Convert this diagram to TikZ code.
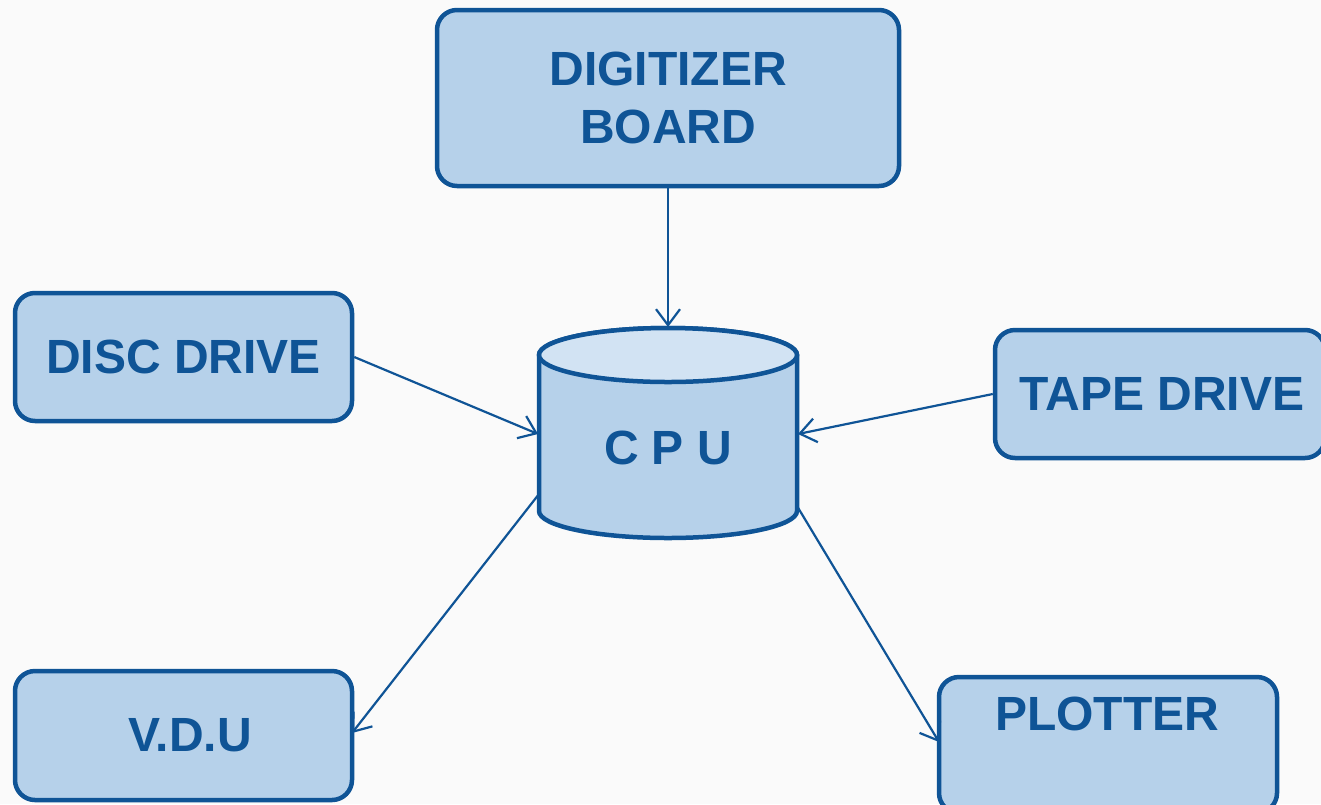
\documentclass[tikz,border=0pt]{standalone}
\usepackage{fontspec}
\setmainfont{Liberation Sans}
\usetikzlibrary{arrows.meta}
\definecolor{bd}{HTML}{0F5496}
\definecolor{fl}{HTML}{B6D1EA}
\definecolor{fltop}{HTML}{D2E3F3}
\definecolor{bg}{HTML}{FAFAFA}
\tikzset{
  box/.style={draw=bd, line width=4.5pt, fill=fl, rounded corners=20pt, inner sep=0pt},
  lbl/.style={text=bd, font=\fontsize{48}{56}\selectfont\bfseries, align=center, inner sep=0pt},
  conn/.style={draw=bd, line width=2.2pt, -{Straight Barb[length=16pt,width=24pt,line width=2.2pt]}}
}
\begin{document}
\begin{tikzpicture}[x=1pt,y=-1pt]
\fill[bg] (0,0) rectangle (1321,804);
\useasboundingbox (0,0) rectangle (1321,804);
% boxes
\node[box, minimum width=462pt, minimum height=176pt] (dig) at (668,98) {};
\node[lbl] (digt) at (668,98) {DIGITIZER\\[2pt]BOARD};
\node[box, minimum width=337pt, minimum height=128pt] (disc) at (183.5,357) {};
\node[lbl] (disct) at (183.5,357) {DISC DRIVE};
\node[box, minimum width=330pt, minimum height=128pt] (tape) at (1160,394) {};
\node[lbl] (tapet) at (1162,394) {TAPE DRIVE};
\node[box, minimum width=337pt, minimum height=129pt] (vdu) at (183.5,735.5) {};
\node[lbl] (vdut) at (190,735) {V.D.U};
\node[box, minimum width=338pt, minimum height=136pt] (plot) at (1108,745) {};
\node[lbl] (plott) at (1107,714) {PLOTTER};
% cylinder CPU
\filldraw[draw=bd, fill=fl, line width=4.5pt]
  (539,355) -- (539,511) arc[start angle=180, end angle=360, x radius=129pt, y radius=27pt]
  -- (797,355) arc[start angle=0, end angle=180, x radius=129pt, y radius=27pt] -- cycle;
\filldraw[draw=bd, fill=fltop, line width=4.5pt] (668,355) ellipse[x radius=129pt, y radius=27pt];
\node[lbl] (cpu) at (668,448) {C P U};
\coordinate (cpuT) at (668,327);
\coordinate (cpuL) at (538,434);
\coordinate (cpuR) at (798,434);
\coordinate (cpuBL) at (539,494);
\coordinate (cpuBR) at (797,506);
\coordinate (vduE) at (352,733);
\coordinate (plotW) at (939,742);
% connectors
\draw[conn] (dig.south) -- (cpuT);
\draw[conn] (disc.east) -- (cpuL);
\draw[conn] (tape.west) -- (cpuR);
\draw[conn] (cpuBL) -- (vduE);
\draw[conn] (cpuBR) -- (plotW);
\end{tikzpicture}
\end{document}
